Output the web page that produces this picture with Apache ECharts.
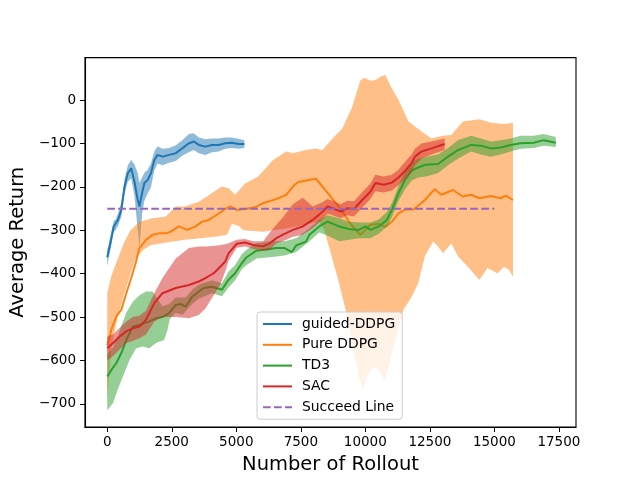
<!DOCTYPE html>
<html>
<head>
<meta charset="utf-8">
<title>Average Return vs Number of Rollout</title>
<script src="https://cdn.jsdelivr.net/npm/echarts@6/dist/echarts.min.js"></script>
<style>
	body { margin: 0; background: #fff; }
	#main { width: 640px; height: 480px; }
</style>
</head>
<body>
<div id="main"></div>
<script>
// values

// guided-DDPG
var blueX = [0, 96, 250, 326, 415, 545, 671, 798, 928, 1055, 1181, 1247, 1350, 1438, 1565, 1695, 1822, 1949, 2140, 2398, 2654, 2908, 3165, 3357, 3548, 3805, 4059, 4316, 4572, 4826, 5083, 5313];
var blueMean = [-362, -337, -291, -287, -276, -253, -199, -168, -157, -188, -230, -245, -214, -191, -184, -168, -138, -126, -130, -126, -122, -111, -99, -95, -103, -107, -103, -103, -99, -98, -101, -101];
var blueLo = [-382, -352, -304, -300, -290, -268, -215, -188, -180, -220, -300, -340, -262, -232, -215, -200, -162, -146, -150, -144, -140, -128, -120, -115, -122, -126, -120, -118, -112, -110, -112, -110];
var blueHi = [-345, -322, -278, -275, -262, -236, -182, -150, -138, -148, -168, -190, -178, -167, -160, -146, -118, -106, -112, -110, -104, -92, -78, -76, -86, -90, -88, -88, -86, -86, -89, -92];

// Pure DDPG
var orangeX = [0, 161, 353, 545, 737, 928, 1100, 1247, 1504, 1757, 2014, 2271, 2463, 2781, 3100, 3422, 3675, 3932, 4250, 4507, 4764, 5018, 5339, 5723, 6042, 6552, 6936, 7193, 7384, 7703, 8087, 8343, 8600, 8854, 9110, 9367, 9621, 9813, 10004, 10196, 10518, 10772, 11029, 11285, 11539, 11861, 12179, 12306, 12690, 12946, 13395, 13779, 14100, 14416, 14865, 15248, 15440, 15720];
var orangeMean = [-565, -529, -499, -483, -445, -410, -376, -341, -322, -310, -307, -307, -303, -291, -299, -291, -280, -276, -264, -253, -245, -253, -251, -247, -237, -228, -218, -199, -189, -185, -181, -199, -218, -237, -256, -280, -299, -310, -299, -287, -285, -292, -280, -261, -252, -252, -237, -230, -205, -218, -207, -222, -218, -226, -221, -226, -220, -230];
var orangeUpX = [0, 160, 415, 640, 900, 1250, 1750, 2270, 2650, 3000, 3550, 4060, 4440, 4700, 4960, 5340, 5850, 6425, 6936, 7193, 7700, 8087, 8343, 8727, 9110, 9494, 9800, 9950, 10200, 10400, 10600, 10772, 11000, 11285, 11669, 12179, 12563, 13000, 13330, 13779, 14416, 14865, 15375, 15720];
var orangeUpY = [-445, -405, -365, -330, -300, -280, -272, -268, -245, -245, -234, -214, -199, -203, -218, -192, -176, -138, -118, -122, -115, -111, -115, -88, -65, -15, 45, 52, 45, 47, 55, 58, 30, 1, -49, -72, -88, -82, -80, -49, -44, -52, -55, -52];
var orangeLoX = [0, 160, 400, 640, 900, 1100, 1400, 1700, 2300, 3000, 3600, 4250, 4640, 4830, 5100, 5275, 6042, 7000, 8215, 8408, 8663, 8983, 9237, 9494, 9750, 9904, 10070, 10326, 10518, 10749, 10902, 11155, 11477, 11796, 12052, 12306, 12628, 12820, 13012, 13330, 13587, 13971, 14416, 14738, 15121, 15375, 15567, 15720];
var orangeLoY = [-690, -570, -500, -450, -400, -365, -345, -334, -328, -322, -318, -314, -310, -285, -290, -300, -303, -295, -280, -299, -353, -422, -483, -560, -637, -668, -637, -614, -622, -645, -614, -553, -483, -453, -422, -360, -326, -337, -353, -330, -360, -384, -414, -387, -399, -384, -391, -407];

// TD3
var greenX = [0, 161, 353, 545, 737, 990, 1247, 1438, 1630, 1886, 2140, 2398, 2654, 2850, 3038, 3293, 3548, 3740, 4059, 4443, 4699, 4956, 5211, 5400, 5785, 6299, 6552, 6875, 7150, 7320, 7703, 7833, 8215, 8535, 8983, 9367, 9750, 10004, 10196, 10518, 10837, 11029, 11285, 11539, 11796, 12052, 12306, 12820, 13203, 13587, 14097, 14481, 14865, 15248, 15632, 16016, 16527, 16911, 17380];
var greenMean = [-637, -622, -606, -583, -553, -522, -518, -514, -510, -503, -500, -491, -472, -470, -476, -453, -441, -433, -430, -437, -414, -399, -376, -362, -347, -343, -341, -341, -350, -335, -326, -310, -291, -280, -291, -297, -299, -291, -299, -291, -276, -253, -214, -184, -162, -155, -149, -147, -130, -115, -103, -105, -111, -109, -103, -99, -98, -92, -98];
var greenUpX = [0, 225, 420, 545, 737, 990, 1247, 1504, 1757, 2140, 2398, 2654, 3038, 3293, 3548, 4059, 4443, 4699, 4956, 5211, 5400, 5785, 6299, 6875, 7320, 7833, 8215, 8535, 8983, 9367, 9750, 10196, 10518, 10837, 11029, 11285, 11539, 11796, 12052, 12400, 12820, 13203, 13587, 14097, 14481, 14865, 15248, 15632, 16016, 16527, 16911, 17380];
var greenUpY = [-585, -570, -545, -520, -490, -465, -450, -441, -441, -475, -470, -455, -455, -437, -425, -415, -422, -395, -380, -355, -345, -330, -325, -325, -318, -295, -275, -265, -272, -280, -282, -282, -275, -258, -237, -198, -165, -142, -135, -130, -125, -110, -92, -82, -88, -95, -92, -88, -82, -82, -78, -85];
var greenLoX = [0, 225, 420, 606, 863, 1120, 1374, 1630, 1886, 2206, 2334, 2420, 2654, 2908, 3293, 3548, 4059, 4443, 4699, 4956, 5211, 5400, 5785, 6299, 6875, 7320, 7833, 8215, 8535, 8983, 9367, 9750, 10196, 10518, 10837, 11029, 11285, 11539, 11796, 12052, 12400, 12820, 13203, 13587, 14097, 14481, 14865, 15248, 15632, 16016, 16527, 16911, 17380];
var greenLoY = [-715, -698, -665, -637, -599, -572, -568, -572, -560, -553, -530, -505, -490, -495, -470, -458, -445, -452, -432, -415, -390, -380, -365, -362, -358, -350, -325, -305, -312, -325, -322, -318, -318, -308, -292, -270, -232, -205, -185, -178, -175, -168, -150, -135, -118, -125, -130, -125, -118, -112, -110, -105, -108];

// SAC
var redX = [0, 225, 480, 737, 990, 1247, 1504, 1822, 2140, 2654, 3165, 3548, 3805, 4124, 4380, 4572, 4699, 5018, 5339, 5658, 6042, 6299, 6552, 6809, 7193, 7576, 7960, 8343, 8535, 8727, 9046, 9302, 9558, 9878, 10196, 10389, 10710, 11029, 11285, 11539, 11796, 11924, 12179, 12563, 13074];
var redMean = [-572, -560, -545, -533, -526, -522, -506, -468, -445, -433, -426, -418, -410, -399, -384, -372, -353, -331, -328, -334, -337, -330, -318, -310, -299, -291, -276, -257, -245, -249, -257, -249, -251, -230, -211, -191, -195, -190, -178, -163, -145, -130, -118, -111, -101];
var redHi = [-545, -540, -525, -510, -500, -497, -485, -445, -410, -365, -341, -337, -337, -336, -334, -332, -330, -322, -320, -325, -325, -305, -287, -270, -240, -225, -245, -235, -228, -232, -240, -232, -233, -212, -192, -172, -176, -172, -160, -142, -125, -112, -100, -95, -88];
var redLo = [-600, -590, -575, -560, -555, -549, -540, -510, -500, -500, -503, -495, -480, -450, -425, -395, -370, -340, -337, -343, -347, -345, -330, -325, -315, -310, -295, -275, -262, -265, -272, -265, -268, -248, -228, -210, -213, -208, -196, -182, -165, -150, -135, -125, -115];

// Succeed Line
var succeedX = [0, 15000];
var succeedY = [-250, -250];

var xTicks = [0, 2500, 5000, 7500, 10000, 12500, 15000, 17500];
var yTicks = [-700, -600, -500, -400, -300, -200, -100, 0];

var FONT = 'DejaVu Sans';

chart = {
	init: function () {
		var myChart = echarts.init(document.getElementById('main'), null, { renderer: 'canvas' });
		myChart.setOption(chart.build_option());
	},

	// zip two arrays into [x, y] points
	pairs: function (xs, ys) {
		return xs.map(function (x, i) { return [x, ys[i]]; });
	},

	// filled band between an upper and a lower edge, like fill_between
	band: function (upX, upY, loX, loY, color, z) {
		return {
			type: 'custom',
			name: 'band' + z,
			silent: true,
			z: z,
			data: [[0, 0]],
			renderItem: function (params, api) {
				var pts = [];
				for (var i = 0; i < upX.length; i++) {
					pts.push(api.coord([upX[i], upY[i]]));
				}
				for (var j = loX.length - 1; j >= 0; j--) {
					pts.push(api.coord([loX[j], loY[j]]));
				}
				return {
					type: 'polygon',
					shape: { points: pts },
					style: { fill: color, opacity: 0.5 }
				};
			}
		};
	},

	line: function (name, xs, ys, color, z, dash) {
		return {
			type: 'line',
			name: name,
			z: z,
			data: chart.pairs(xs, ys),
			symbol: 'none',
			showSymbol: false,
			smooth: false,
			lineStyle: { color: color, width: 2, type: dash || 'solid' },
			itemStyle: { color: color }
		};
	},

	build_option: function () {
		// matplotlib style labels: no thousands separator, real minus sign
		var plain = function (v) { return String(v).replace('-', '\u2212'); };
		var axisLine = { show: true, onZero: false, lineStyle: { color: '#000', width: 1.1 } };
		return {
			animation: false,
			backgroundColor: '#fff',
			textStyle: { fontFamily: FONT },
			grid: {
				left: 80, right: 64, top: 57.6, bottom: 52.8,
				show: true, borderColor: '#000', borderWidth: 1.1, backgroundColor: 'transparent'
			},
			xAxis: {
				type: 'value',
				min: -863, max: 18163,
				name: 'Number of Rollout',
				nameLocation: 'middle',
				nameGap: 28,
				nameTextStyle: { fontSize: 19.5, color: '#000', fontFamily: FONT },
				axisLine: axisLine,
				splitLine: { show: false },
				axisTick: { show: true, inside: false, length: 5, customValues: xTicks, lineStyle: { color: '#000', width: 1 } },
				axisLabel: { customValues: xTicks, color: '#000', fontSize: 13.5, fontFamily: FONT, margin: 8, formatter: plain }
			},
			yAxis: {
				type: 'value',
				min: -753.6, max: 98.4,
				name: 'Average Return',
				nameLocation: 'middle',
				nameGap: 52,
				nameTextStyle: { fontSize: 19.5, color: '#000', fontFamily: FONT },
				axisLine: axisLine,
				splitLine: { show: false },
				axisTick: { show: true, inside: false, length: 5, customValues: yTicks, lineStyle: { color: '#000', width: 1 } },
				axisLabel: { customValues: yTicks, color: '#000', fontSize: 13.5, fontFamily: FONT, margin: 9, formatter: plain }
			},
			legend: {
				data: ['guided-DDPG', 'Pure DDPG', 'TD3', 'SAC', 'Succeed Line'],
				orient: 'vertical',
				left: 257, top: 312,
				z: 50,
				padding: [5, 7, 5, 5],
				itemGap: 6.8,
				itemWidth: 29,
				itemHeight: 14,
				// hide the marker dot, keep only the line sample
				itemStyle: { color: 'rgba(0,0,0,0)', borderWidth: 0, opacity: 0 },
				backgroundColor: 'rgba(255,255,255,0.8)',
				borderColor: '#cccccc',
				borderWidth: 1,
				borderRadius: 3,
				textStyle: { fontSize: 13.9, color: '#000', fontFamily: FONT, padding: [0, 0, 0, 5] }
			},
			series: [
				chart.band(blueX, blueHi, blueX, blueLo, '#1f77b4', 3),
				chart.line('guided-DDPG', blueX, blueMean, '#1f77b4', 4),
				chart.band(orangeUpX, orangeUpY, orangeLoX, orangeLoY, '#ff7f0e', 5),
				chart.line('Pure DDPG', orangeX, orangeMean, '#ff7f0e', 6),
				chart.band(greenUpX, greenUpY, greenLoX, greenLoY, '#2ca02c', 7),
				chart.line('TD3', greenX, greenMean, '#2ca02c', 8),
				chart.band(redX, redHi, redX, redLo, '#d62728', 9),
				chart.line('SAC', redX, redMean, '#d62728', 10),
				chart.line('Succeed Line', succeedX, succeedY, '#9467bd', 11, [7.7, 3.3])
			]
		};
	}
};

chart.init();
</script>
</body>
</html>
